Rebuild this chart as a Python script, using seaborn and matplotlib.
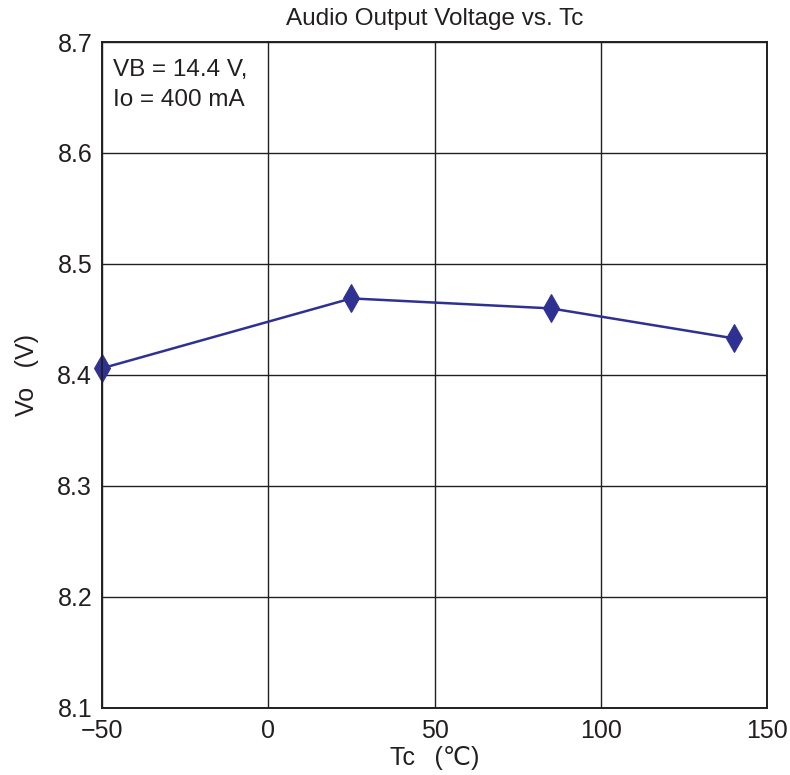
import matplotlib
matplotlib.use("Agg")
import matplotlib.pyplot as plt
import seaborn as sns
import pandas as pd

tc = [-50, 25, 85, 140]
vo = [8.406, 8.469, 8.460, 8.433]
x_ticks = [-50, 0, 50, 100, 150]
x_tick_labels = ["\u221250", "0", "50", "100", "150"]
y_ticks = [8.1, 8.2, 8.3, 8.4, 8.5, 8.6, 8.7]
y_tick_labels = ["8.1", "8.2", "8.3", "8.4", "8.5", "8.6", "8.7"]

sns.set_theme(style="white")
plt.rcParams['font.family'] = ['Liberation Sans', 'DejaVu Sans']

df = pd.DataFrame({"Tc": tc, "Vo": vo})

fig = plt.figure(figsize=(7.9, 7.75), dpi=100)
ax = fig.add_axes([0.129, 0.0865, 0.842, 0.8593])

sns.lineplot(data=df, x="Tc", y="Vo", ax=ax, color="#2e3192", linewidth=1.8,
             marker="d", markersize=14, markeredgecolor="#2e3192",
             markerfacecolor="#2e3192", clip_on=False)

ax.set_xlim(-50, 150)
ax.set_ylim(8.1, 8.7)
ax.set_xticks(x_ticks)
ax.set_xticklabels(x_tick_labels, fontsize=18)
ax.set_yticks(y_ticks)
ax.set_yticklabels(y_tick_labels, fontsize=18)
ax.tick_params(axis="x", length=0, pad=8, colors="#231f20")
ax.tick_params(axis="y", length=0, pad=7, colors="#231f20")
ax.grid(True, color="#231f20", linewidth=1.0)
ax.set_axisbelow(True)
for s in ax.spines.values():
    s.set_color("#231f20")
    s.set_linewidth(1.4)

ax.set_xlabel("Tc\u2002 (\u2103)", fontsize=18, color="#231f20", labelpad=2)
ax.set_ylabel("Vo\u2002 (V)", fontsize=18, color="#231f20", labelpad=13)
ax.set_title("Audio Output Voltage vs. Tc", fontsize=17.5, color="#231f20", pad=12)

ax.text(0.017, 0.975, "VB = 14.4 V,\nIo = 400 mA", transform=ax.transAxes,
        fontsize=17.5, color="#231f20", va="top", ha="left", linespacing=1.5)

fig.savefig("out.png", dpi=100)
